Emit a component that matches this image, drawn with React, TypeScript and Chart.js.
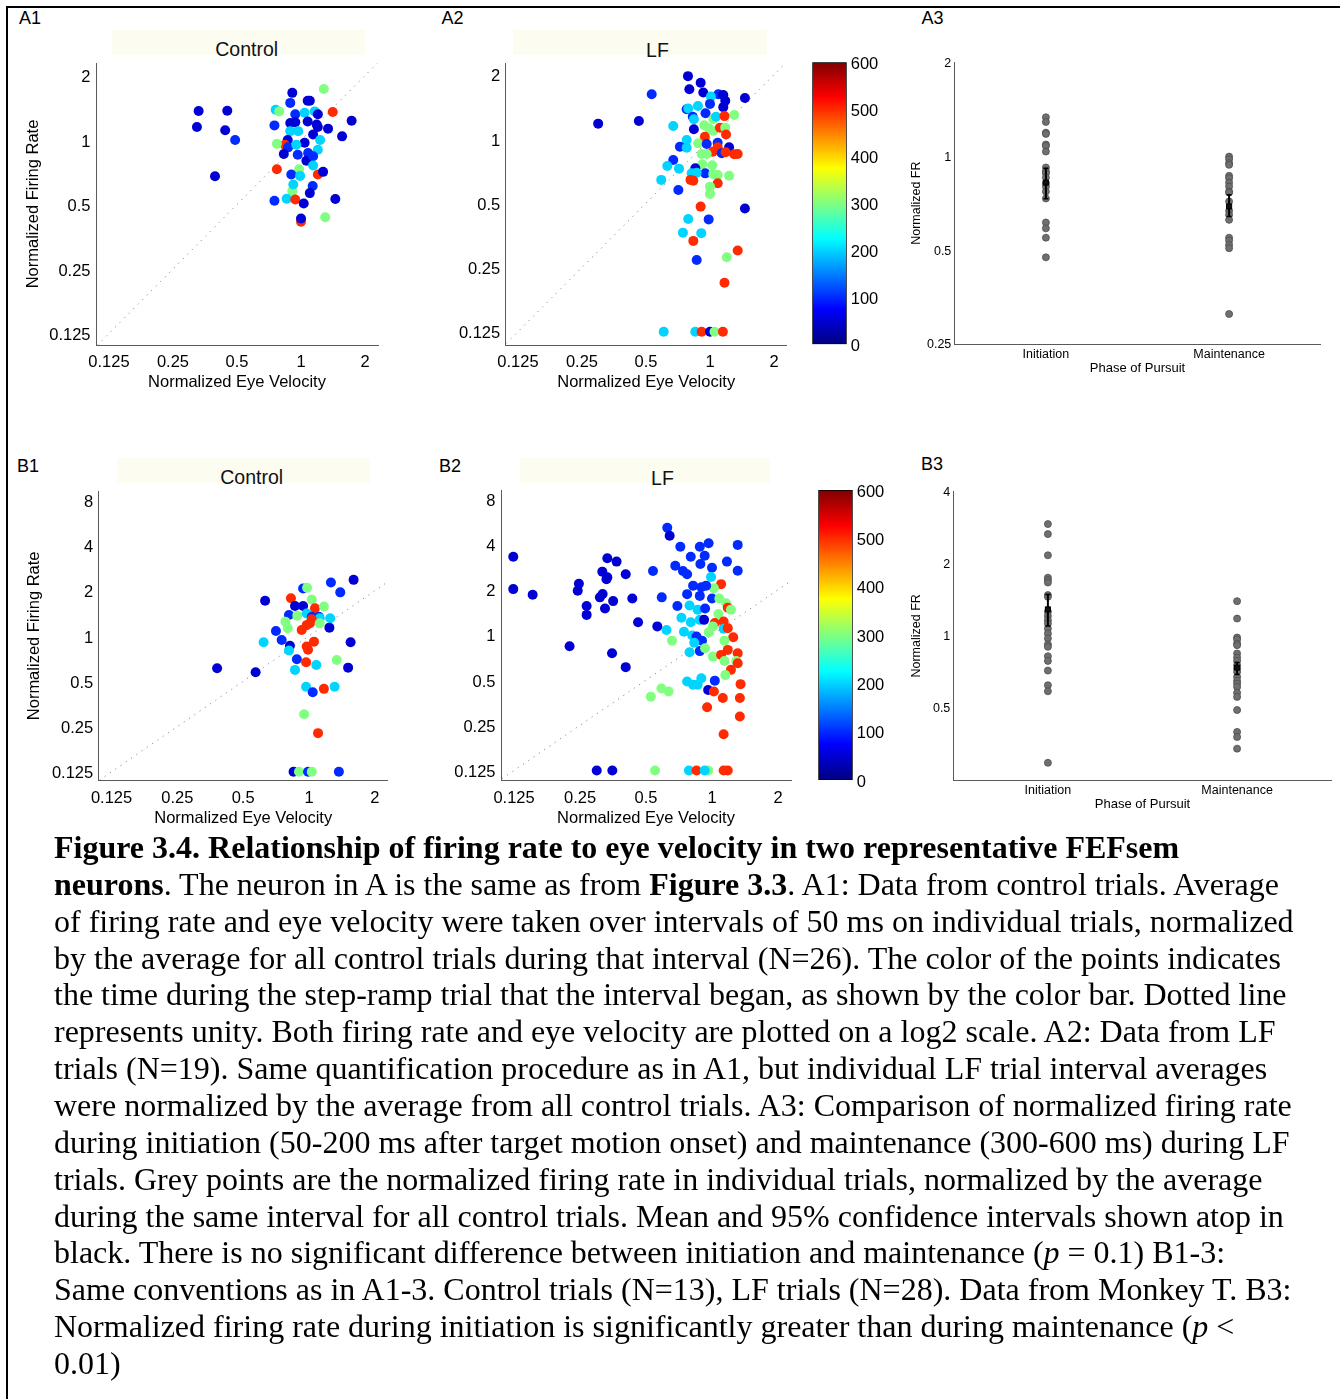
import React, { useEffect, useRef } from 'react';
import { Chart, registerables } from 'chart.js';
Chart.register(...registerables);

// ---------- shared axis data ----------
const TIME_MAX = 600;
const COLORBAR_TICKS = [0, 100, 200, 300, 400, 500, 600];
const COLORBAR_STOPS = [0, 0.125, 0.25, 0.375, 0.5, 0.625, 0.75, 0.875, 1];
const VEL_TICKS = [0.125, 0.25, 0.5, 1, 2];
const VEL_LABELS = ['0.125', '0.25', '0.5', '1', '2'];
const A_FR_TICKS = [0.125, 0.25, 0.5, 1, 2];
const A_FR_LABELS = ['0.125', '0.25', '0.5', '1', '2'];
const B_FR_TICKS = [0.125, 0.25, 0.5, 1, 2, 4, 8];
const B_FR_LABELS = ['0.125', '0.25', '0.5', '1', '2', '4', '8'];
const A3_TICKS = [0.25, 0.5, 1, 2];
const A3_LABELS = ['0.25', '0.5', '1', '2'];
const B3_TICKS = [0.5, 1, 2, 4];
const B3_LABELS = ['0.5', '1', '2', '4'];
const PHASES = ['Initiation', 'Maintenance'];
const PHASE_X = [1, 3];
const UNITY = [0.11, 2.28];

// ---------- A1 (Control) ----------
const a1Vel = [1.28, 0.91, 0.89, 1.075, 1.1, 0.76, 0.79, 1.41, 0.94, 1.04, 1.16, 1.2, 1.73, 0.75, 0.89, 0.94, 1.075, 1.185, 0.89, 0.97, 1.2, 1.34, 1.56, 1.14, 1.23, 1.04, 0.866, 0.84, 0.77, 0.87, 0.95, 0.83, 0.965, 1.08, 1.2, 1.06, 1.14, 1.14, 0.77, 0.98, 1.2, 1.27, 0.9, 0.99, 0.91, 0.92, 1.135, 1.1, 0.856, 0.94, 0.75, 1.03, 1.45, 1.3, 1.0, 1.0, 0.33, 0.45, 0.324, 0.44, 0.49, 0.394];
const a1FR = [1.73, 1.66, 1.49, 1.525, 1.525, 1.385, 1.36, 1.35, 1.32, 1.34, 1.36, 1.32, 1.23, 1.17, 1.2, 1.21, 1.22, 1.18, 1.1, 1.1, 1.15, 1.13, 1.04, 1.06, 1.0, 0.97, 1.0, 0.95, 0.96, 0.924, 0.95, 0.86, 0.854, 0.87, 0.9, 0.8, 0.84, 0.76, 0.73, 0.73, 0.69, 0.71, 0.69, 0.68, 0.577, 0.62, 0.61, 0.565, 0.532, 0.527, 0.52, 0.505, 0.53, 0.436, 0.415, 0.43, 1.366, 1.37, 1.15, 1.11, 1.0, 0.677];
const a1Time = [300, 50, 100, 50, 50, 200, 300, 500, 100, 200, 200, 50, 50, 100, 50, 50, 50, 50, 200, 200, 50, 50, 50, 50, 200, 50, 50, 500, 300, 100, 200, 50, 100, 100, 200, 50, 100, 200, 500, 300, 500, 50, 100, 200, 300, 200, 100, 50, 200, 500, 100, 50, 50, 300, 500, 50, 50, 50, 50, 50, 100, 50];

// ---------- A2 (LF) ----------
const a2Vel = [0.298, 0.463, 0.532, 0.788, 0.8, 0.904, 0.93, 1.094, 1.155, 1.01, 1.0, 1.18, 1.155, 1.46, 0.777, 0.79, 0.878, 0.953, 0.83, 0.84, 1.036, 1.067, 1.3, 1.17, 0.84, 0.672, 0.94, 0.99, 1.036, 1.114, 1.18, 0.946, 1.19, 0.777, 0.722, 0.777, 0.88, 0.965, 1.087, 1.23, 1.087, 1.03, 1.135, 1.185, 1.3, 1.35, 0.914, 0.965, 0.672, 0.63, 0.715, 0.92, 1.025, 0.853, 0.95, 0.82, 0.866, 1.036, 1.087, 1.23, 0.59, 0.81, 0.835, 1.087, 1.0, 0.71, 1.0, 0.904, 1.46, 0.79, 0.986, 0.746, 0.91, 0.835, 1.35, 1.2, 0.866, 1.17, 0.606, 0.853, 0.914, 1.0, 1.05, 1.15];
const a2FR = [1.18, 1.214, 1.62, 1.97, 1.71, 1.835, 1.65, 1.62, 1.607, 1.58, 1.46, 1.51, 1.41, 1.556, 1.377, 1.39, 1.427, 1.32, 1.27, 1.237, 1.24, 1.27, 1.296, 1.28, 1.11, 1.15, 1.16, 1.12, 1.094, 1.13, 1.13, 1.025, 1.05, 0.99, 0.92, 0.91, 0.955, 0.947, 0.96, 0.914, 0.914, 0.872, 0.857, 0.866, 0.848, 0.85, 0.85, 0.85, 0.797, 0.747, 0.726, 0.761, 0.753, 0.729, 0.69, 0.69, 0.695, 0.686, 0.678, 0.673, 0.643, 0.643, 0.638, 0.62, 0.598, 0.577, 0.553, 0.482, 0.472, 0.422, 0.42, 0.364, 0.362, 0.333, 0.3, 0.279, 0.271, 0.212, 0.125, 0.125, 0.125, 0.125, 0.125, 0.125];
const a2Time = [50, 50, 100, 50, 50, 50, 50, 100, 50, 200, 100, 50, 50, 50, 100, 200, 200, 100, 100, 200, 300, 200, 300, 500, 50, 200, 300, 300, 300, 500, 300, 500, 500, 200, 100, 200, 300, 100, 100, 50, 500, 500, 100, 500, 500, 500, 300, 300, 100, 200, 200, 300, 300, 50, 100, 200, 200, 300, 300, 300, 200, 500, 500, 500, 300, 100, 300, 500, 50, 200, 100, 200, 200, 500, 500, 300, 100, 500, 200, 200, 500, 50, 300, 500];

// ---------- A3 (LF, phases) ----------
const a3Init = [1.333, 1.288, 1.19, 1.179, 1.09, 1.079, 1.035, 0.92, 0.893, 0.882, 0.854, 0.82, 0.8, 0.77, 0.732, 0.613, 0.587, 0.548, 0.474];
const a3Maint = [0.997, 0.978, 0.95, 0.938, 0.865, 0.85, 0.823, 0.8, 0.77, 0.765, 0.716, 0.668, 0.649, 0.625, 0.548, 0.537, 0.52, 0.507, 0.312];
const a3Mean = [0.823, 0.69];
const a3Low = [0.73, 0.641];
const a3High = [0.915, 0.752];

// ---------- B1 (Control) ----------
const b1Vel = [1.26, 1.6, 1.39, 0.94, 0.98, 0.63, 0.827, 1.03, 0.863, 0.94, 1.065, 1.17, 0.81, 0.884, 0.976, 1.03, 1.11, 1.12, 1.25, 1.03, 0.78, 0.8, 0.926, 0.976, 1.01, 1.12, 1.24, 0.706, 0.75, 0.62, 0.818, 0.81, 0.976, 1.054, 0.99, 1.55, 0.57, 0.38, 0.88, 0.97, 1.08, 1.34, 0.863, 1.51, 0.97, 1.04, 1.17, 1.31, 0.95, 1.1, 0.85, 0.9, 0.99, 1.03, 1.37];
const b1FR = [2.27, 2.36, 1.95, 2.07, 2.09, 1.716, 1.78, 1.75, 1.58, 1.58, 1.53, 1.57, 1.38, 1.365, 1.41, 1.34, 1.34, 1.31, 1.31, 1.29, 1.245, 1.125, 1.096, 1.18, 1.215, 1.215, 1.136, 1.08, 0.94, 0.908, 0.862, 0.8, 0.85, 0.917, 0.81, 0.908, 0.574, 0.61, 0.7, 0.669, 0.642, 0.693, 0.595, 0.616, 0.46, 0.422, 0.445, 0.46, 0.302, 0.226, 0.125, 0.125, 0.125, 0.125, 0.125];
const b1Time = [100, 50, 100, 100, 300, 50, 500, 300, 50, 50, 500, 300, 100, 300, 200, 100, 100, 200, 200, 500, 300, 300, 500, 500, 500, 300, 50, 100, 100, 200, 50, 200, 500, 500, 500, 50, 50, 50, 100, 500, 200, 300, 200, 50, 200, 100, 500, 200, 300, 500, 50, 300, 100, 300, 100];

// ---------- B2 (LF) ----------
const b2Vel = [0.124, 0.124, 0.152, 0.247, 0.244, 0.268, 0.268, 0.333, 0.367, 0.316, 0.333, 0.33, 0.404, 0.317, 0.308, 0.354, 0.325, 0.433, 0.46, 0.224, 0.35, 0.404, 0.298, 0.351, 0.526, 0.625, 0.641, 0.717, 0.88, 0.965, 0.926, 0.8, 1.31, 0.885, 1.17, 0.68, 0.737, 0.77, 1.0, 1.31, 0.538, 0.99, 1.1, 1.02, 0.82, 0.894, 0.94, 0.77, 0.88, 1.0, 1.08, 0.59, 0.695, 0.79, 0.86, 0.93, 1.16, 1.18, 1.22, 1.07, 0.725, 0.8, 0.88, 0.92, 1.03, 1.13, 1.01, 0.563, 0.62, 0.745, 0.813, 0.85, 0.966, 1.13, 1.18, 1.25, 0.657, 0.9, 0.83, 1.14, 0.79, 0.88, 0.93, 1.18, 1.01, 1.31, 1.1, 1.14, 1.29, 1.22, 1.31, 1.15, 1.35, 1.03, 0.77, 0.82, 0.894, 0.86, 0.96, 1.02, 1.12, 1.34, 0.95, 1.34, 1.13, 0.588, 0.634, 0.55, 0.785, 0.85, 0.96, 0.926, 1.13, 1.18];
const b2FR = [3.32, 2.02, 1.85, 2.19, 1.97, 1.56, 1.36, 3.24, 3.08, 2.64, 2.42, 2.35, 2.54, 1.875, 1.78, 1.68, 1.5, 1.75, 1.215, 0.84, 0.755, 0.61, 0.125, 0.125, 0.388, 5.18, 4.58, 3.87, 3.87, 4.08, 3.37, 3.32, 3.98, 2.97, 3.08, 2.89, 2.67, 2.54, 2.8, 2.68, 2.67, 2.43, 2.18, 2.05, 2.13, 2.08, 2.13, 1.87, 1.82, 1.75, 1.75, 1.78, 1.56, 1.57, 1.47, 1.5, 1.625, 1.52, 1.47, 1.38, 1.3, 1.215, 1.26, 1.26, 1.2, 1.23, 1.14, 1.14, 1.08, 1.05, 0.99, 0.975, 1.04, 1.1, 1.11, 0.965, 0.916, 0.916, 0.888, 0.916, 0.767, 0.78, 0.815, 0.795, 0.717, 0.755, 0.736, 0.671, 0.671, 0.585, 0.648, 0.54, 0.47, 0.496, 0.49, 0.465, 0.515, 0.465, 0.43, 0.42, 0.38, 0.38, 0.33, 0.286, 0.218, 0.44, 0.42, 0.125, 0.125, 0.125, 0.125, 0.125, 0.125, 0.125];
const b2Time = [50, 50, 50, 50, 50, 50, 50, 50, 50, 50, 50, 50, 50, 50, 50, 50, 50, 50, 50, 50, 50, 50, 50, 50, 300, 100, 50, 100, 100, 100, 100, 100, 100, 100, 100, 100, 100, 100, 100, 100, 100, 200, 500, 300, 100, 100, 100, 100, 100, 100, 300, 100, 100, 200, 200, 100, 300, 500, 300, 300, 200, 200, 200, 50, 500, 500, 300, 50, 200, 200, 200, 100, 300, 200, 500, 500, 300, 100, 200, 300, 200, 100, 300, 500, 300, 500, 500, 300, 300, 500, 500, 300, 500, 100, 200, 200, 200, 200, 50, 500, 500, 500, 500, 500, 500, 300, 300, 300, 200, 500, 300, 200, 500, 500];

// ---------- B3 (LF, phases) ----------
const b3Init = [2.93, 2.66, 2.17, 1.75, 1.71, 1.67, 1.48, 1.456, 1.26, 1.21, 1.163, 1.126, 1.073, 1.022, 0.975, 0.92, 0.9, 0.822, 0.786, 0.716, 0.622, 0.587, 0.295];
const b3Maint = [1.396, 1.181, 0.984, 0.965, 0.929, 0.914, 0.844, 0.812, 0.786, 0.754, 0.73, 0.707, 0.674, 0.649, 0.632, 0.612, 0.578, 0.556, 0.49, 0.397, 0.378, 0.338];
const b3Mean = [1.29, 0.737];
const b3Low = [1.1, 0.69];
const b3High = [1.49, 0.774];

// ---------- styling ----------
const SANS = "'Liberation Sans', Arial, Helvetica, sans-serif";
const SERIF = "'Liberation Serif', 'Times New Roman', serif";
const AXIS = '#5a5a5a';
const FS = 16.5;
const LH = FS * 1.2;

function jet(v: number): string {
  const c = (x: number) => Math.round(255 * Math.max(0, Math.min(1, x)));
  return `rgb(${c(1.5 - Math.abs(4 * v - 3))},${c(1.5 - Math.abs(4 * v - 2))},${c(1.5 - Math.abs(4 * v - 1))})`;
}

const inTicks = {
  id: 'inTicks',
  afterDraw(chart: any, _args: any, opts: any) {
    if (!opts || !opts.axes) return;
    const { ctx, chartArea: a } = chart;
    ctx.save();
    ctx.strokeStyle = opts.color || AXIS;
    ctx.lineWidth = 1;
    ctx.beginPath();
    for (const id of opts.axes) {
      const s = chart.scales[id];
      if (!s) continue;
      for (const t of s.ticks) {
        const p = Math.round(s.getPixelForValue(t.value)) + 0.5;
        if (s.isHorizontal()) {
          ctx.moveTo(p, a.bottom);
          ctx.lineTo(p, a.bottom - opts.len);
        } else {
          if (opts.left !== false) {
            ctx.moveTo(a.left, p);
            ctx.lineTo(a.left + opts.len, p);
          }
          if (opts.right) {
            ctx.moveTo(a.right, p);
            ctx.lineTo(a.right - opts.len, p);
          }
        }
      }
    }
    ctx.stroke();
    ctx.restore();
  },
};

type Box = { left: number; top: number; w: number; h: number };
type Area = { l: number; t: number; r: number; b: number };

function scatterConfig(p: {
  box: Box; area: Area; xMin: number; xMax: number; yMin: number; yMax: number;
  yTicks: number[]; yLabels: string[]; vel: number[]; fr: number[]; time: number[];
  yTitle: string | null; yTitleX: number; xTickY: number; xTitleY: number;
}): any {
  const { box, area } = p;
  const font = { family: SANS, size: FS };
  return {
    type: 'scatter',
    data: {
      datasets: [
        {
          data: p.vel.map((v, i) => ({ x: v, y: p.fr[i] })),
          pointBackgroundColor: p.time.map((t) => jet(t / TIME_MAX)),
          pointBorderWidth: 0,
          pointRadius: 5,
          order: 0,
        },
        {
          type: 'line',
          data: UNITY.map((u) => ({ x: u, y: u })),
          borderColor: '#8a8a8a',
          borderWidth: 1,
          borderDash: [1.2, 5.2],
          pointRadius: 0,
          order: 1,
        },
      ],
    },
    options: {
      responsive: false,
      animation: false,
      devicePixelRatio: 1,
      events: [],
      layout: { padding: { left: 0, top: area.t - box.top, right: box.left + box.w - area.r, bottom: 0 } },
      plugins: {
        legend: { display: false },
        tooltip: { enabled: false },
        inTicks: { axes: ['x', 'y'], len: 4, color: AXIS },
      },
      scales: {
        x: {
          type: 'logarithmic',
          min: p.xMin,
          max: p.xMax,
          afterBuildTicks: (s: any) => { s.ticks = VEL_TICKS.map((v) => ({ value: v })); },
          afterFit: (s: any) => { s.height = box.top + box.h - area.b; },
          ticks: {
            callback: (_v: any, i: number) => VEL_LABELS[i],
            font, color: '#000', autoSkip: false, maxRotation: 0,
            padding: p.xTickY - area.b - LH / 2 + 2,
          },
          grid: { display: false, drawTicks: false },
          border: { display: true, color: AXIS, width: 1 },
          title: {
            display: true, text: 'Normalized Eye Velocity', font, color: '#000',
            padding: { top: 0, bottom: box.top + box.h - p.xTitleY - LH / 2 - 2 },
          },
        },
        y: {
          type: 'logarithmic',
          min: p.yMin,
          max: p.yMax,
          afterBuildTicks: (s: any) => { s.ticks = p.yTicks.map((v) => ({ value: v })); },
          afterFit: (s: any) => { s.width = area.l - box.left; },
          ticks: {
            callback: (_v: any, i: number) => p.yLabels[i],
            font, color: '#000', autoSkip: false, padding: 5.5, labelOffset: 2,
          },
          grid: { display: false, drawTicks: false },
          border: { display: true, color: AXIS, width: 1 },
          title: {
            display: !!p.yTitle, text: p.yTitle || '', font, color: '#000',
            padding: { top: p.yTitleX - box.left - LH / 2, bottom: 0 },
          },
        },
      },
    },
  };
}

function phaseConfig(p: {
  box: Box; area: Area; yMin: number; yMax: number; yTicks: number[]; yLabels: string[];
  init: number[]; maint: number[]; mean: number[]; low: number[]; high: number[];
  yTitleX: number; xTickY: number; xTitleY: number;
}): any {
  const { box, area } = p;
  const tf = { family: SANS, size: 12.5 };
  const tlh = 12.5 * 1.2;
  const ttf = { family: SANS, size: 13 };
  const ttlh = 13 * 1.2;
  const bars = PHASE_X.map((x, i) => ({
    type: 'line',
    data: [{ x, y: p.low[i] }, { x, y: p.high[i] }],
    borderColor: '#000',
    borderWidth: 2,
    pointStyle: 'line',
    pointRadius: 2.5,
    pointBorderColor: '#000',
    pointBorderWidth: 1.5,
    order: 1,
  }));
  return {
    type: 'scatter',
    data: {
      datasets: [
        {
          data: PHASE_X.map((x, i) => ({ x, y: p.mean[i] })),
          pointStyle: 'rect',
          pointRadius: 3.6,
          pointBackgroundColor: '#111',
          pointBorderColor: '#000',
          pointBorderWidth: 1,
          order: 0,
        },
        ...bars,
        {
          data: [
            ...p.init.map((v) => ({ x: PHASE_X[0], y: v })),
            ...p.maint.map((v) => ({ x: PHASE_X[1], y: v })),
          ],
          pointRadius: 3.5,
          pointBackgroundColor: '#6f6f6f',
          pointBorderColor: '#4e4e4e',
          pointBorderWidth: 0.8,
          order: 2,
        },
      ],
    },
    options: {
      responsive: false,
      animation: false,
      devicePixelRatio: 1,
      events: [],
      layout: { padding: { left: 0, top: area.t - box.top, right: box.left + box.w - area.r, bottom: 0 } },
      plugins: {
        legend: { display: false },
        tooltip: { enabled: false },
        inTicks: { axes: ['x', 'y'], len: 3, color: AXIS },
      },
      scales: {
        x: {
          type: 'linear',
          min: 0,
          max: 4,
          afterBuildTicks: (s: any) => { s.ticks = PHASE_X.map((v) => ({ value: v })); },
          afterFit: (s: any) => { s.height = box.top + box.h - area.b; },
          ticks: {
            callback: (_v: any, i: number) => PHASES[i],
            font: tf, color: '#000', autoSkip: false, maxRotation: 0,
            padding: p.xTickY - area.b - tlh / 2 + 1,
          },
          grid: { display: false, drawTicks: false },
          border: { display: true, color: AXIS, width: 1 },
          title: {
            display: true, text: 'Phase of Pursuit', font: ttf, color: '#000',
            padding: { top: 0, bottom: box.top + box.h - p.xTitleY - ttlh / 2 - 1.5 },
          },
        },
        y: {
          type: 'logarithmic',
          min: p.yMin,
          max: p.yMax,
          afterBuildTicks: (s: any) => { s.ticks = p.yTicks.map((v) => ({ value: v })); },
          afterFit: (s: any) => { s.width = area.l - box.left; },
          ticks: {
            callback: (_v: any, i: number) => p.yLabels[i],
            font: tf, color: '#000', autoSkip: false, padding: 3, labelOffset: 1,
          },
          grid: { display: false, drawTicks: false },
          border: { display: true, color: AXIS, width: 1 },
          title: {
            display: true, text: 'Normalized FR', font: tf, color: '#000',
            padding: { top: p.yTitleX - box.left - tlh / 2, bottom: 0 },
          },
        },
      },
    },
  };
}

function colorbarConfig(box: Box, area: Area): any {
  return {
    type: 'bar',
    data: {
      labels: [''],
      datasets: [
        {
          data: [COLORBAR_TICKS[COLORBAR_TICKS.length - 1]],
          backgroundColor: (ctx: any) => {
            const a = ctx.chart.chartArea;
            if (!a) return '#000080';
            const g = ctx.chart.ctx.createLinearGradient(0, a.bottom, 0, a.top);
            COLORBAR_STOPS.forEach((s) => g.addColorStop(s, jet(s)));
            return g;
          },
          borderColor: '#000',
          borderWidth: 1,
          borderSkipped: false,
          barPercentage: 1,
          categoryPercentage: 1,
        },
      ],
    },
    options: {
      responsive: false,
      animation: false,
      devicePixelRatio: 1,
      events: [],
      layout: {
        padding: { left: area.l - box.left, top: area.t - box.top, right: 0, bottom: box.top + box.h - area.b },
      },
      plugins: {
        legend: { display: false },
        tooltip: { enabled: false },
        inTicks: { axes: ['y'], len: 4, color: '#222', left: true, right: true },
      },
      scales: {
        x: { type: 'category', display: false },
        y: {
          position: 'right',
          min: COLORBAR_TICKS[0],
          max: COLORBAR_TICKS[COLORBAR_TICKS.length - 1],
          afterBuildTicks: (s: any) => { s.ticks = COLORBAR_TICKS.map((v) => ({ value: v })); },
          afterFit: (s: any) => { s.width = box.left + box.w - area.r; },
          ticks: { font: { family: SANS, size: FS }, color: '#000', padding: 4, autoSkip: false, labelOffset: 2 },
          grid: { display: false, drawTicks: false },
          border: { display: false },
        },
      },
    },
  };
}

function ChartBox({ box, make }: { box: Box; make: () => any }) {
  const ref = useRef<HTMLCanvasElement>(null);
  useEffect(() => {
    const chart = new Chart(ref.current as HTMLCanvasElement, make());
    return () => chart.destroy();
  }, []);
  return (
    <div style={{ position: 'absolute', left: box.left, top: box.top, width: box.w, height: box.h }}>
      <canvas ref={ref} width={box.w} height={box.h} style={{ width: box.w, height: box.h, display: 'block' }} />
    </div>
  );
}

function PanelLetter({ text, left, top }: { text: string; left: number; top: number }) {
  return (
    <div style={{ position: 'absolute', left, top, fontFamily: SANS, fontSize: 18, lineHeight: '18px', color: '#000', whiteSpace: 'nowrap' }}>
      {text}
    </div>
  );
}

function TitleBox({ text, x0, x1, y0, y1, cx, cy }: { text: string; x0: number; x1: number; y0: number; y1: number; cx: number; cy: number }) {
  return (
    <>
      <div style={{ position: 'absolute', left: x0, top: y0, width: x1 - x0, height: y1 - y0, background: '#fcfcf1' }} />
      <div style={{ position: 'absolute', left: cx - 100, width: 200, top: cy - 11.8, fontFamily: SANS, fontSize: 19.5, lineHeight: '24px', textAlign: 'center', color: '#111' }}>
        {text}
      </div>
    </>
  );
}

const A1_BOX = { left: 10, top: 40, w: 390, h: 360 };
const A2_BOX = { left: 420, top: 40, w: 380, h: 360 };
const CA_BOX = { left: 800, top: 40, w: 100, h: 330 };
const A3_BOX = { left: 900, top: 40, w: 440, h: 350 };
const B1_BOX = { left: 10, top: 462, w: 390, h: 368 };
const B2_BOX = { left: 420, top: 462, w: 380, h: 368 };
const CB_BOX = { left: 800, top: 462, w: 100, h: 340 };
const B3_BOX = { left: 900, top: 462, w: 440, h: 360 };

export default function App() {
  const lineStyle: React.CSSProperties = { whiteSpace: 'nowrap', height: 36.86 };
  return (
    <div style={{ position: 'absolute', left: 0, top: 0, width: 1340, height: 1399, overflow: 'hidden', background: '#fff' }}>
      <div style={{ position: 'absolute', left: 6, top: 6, width: 1340, height: 1400, borderTop: '2px solid #000', borderLeft: '2px solid #000' }} />

      <PanelLetter text="A1" left={19} top={9.3} />
      <PanelLetter text="A2" left={441.5} top={9.3} />
      <PanelLetter text="A3" left={921.5} top={9.3} />
      <PanelLetter text="B1" left={17} top={457} />
      <PanelLetter text="B2" left={439} top={457} />
      <PanelLetter text="B3" left={921} top={454.5} />

      <TitleBox text="Control" x0={112} x1={365} y0={30} y1={55} cx={246.7} cy={49.2} />
      <TitleBox text="LF" x0={513} x1={767} y0={30} y1={55} cx={657.5} cy={49.5} />
      <TitleBox text="Control" x0={117} x1={370} y0={458} y1={483} cx={251.7} cy={477} />
      <TitleBox text="LF" x0={520} x1={770} y0={458} y1={483} cx={662.5} cy={477.3} />

      <ChartBox box={A1_BOX} make={() => scatterConfig({
        box: A1_BOX, area: { l: 96, t: 63, r: 378, b: 345 },
        xMin: 0.1086, xMax: 2.302, yMin: 0.1104, yMax: 2.288,
        yTicks: A_FR_TICKS, yLabels: A_FR_LABELS, vel: a1Vel, fr: a1FR, time: a1Time,
        yTitle: 'Normalized Firing Rate', yTitleX: 33, xTickY: 360, xTitleY: 380,
      })} />
      <ChartBox box={A2_BOX} make={() => scatterConfig({
        box: A2_BOX, area: { l: 505.7, t: 63, r: 786.7, b: 345 },
        xMin: 0.1095, xMax: 2.295, yMin: 0.1083, yMax: 2.27,
        yTicks: A_FR_TICKS, yLabels: A_FR_LABELS, vel: a2Vel, fr: a2FR, time: a2Time,
        yTitle: null, yTitleX: 440, xTickY: 360, xTitleY: 380,
      })} />
      <ChartBox box={CA_BOX} make={() => colorbarConfig(CA_BOX, { l: 812.3, t: 62.3, r: 846.7, b: 344.3 })} />
      <ChartBox box={A3_BOX} make={() => phaseConfig({
        box: A3_BOX, area: { l: 954.3, t: 62.3, r: 1320.7, b: 344 },
        yMin: 0.25, yMax: 2, yTicks: A3_TICKS, yLabels: A3_LABELS,
        init: a3Init, maint: a3Maint, mean: a3Mean, low: a3Low, high: a3High,
        yTitleX: 916.7, xTickY: 353.5, xTitleY: 366.7,
      })} />

      <ChartBox box={B1_BOX} make={() => scatterConfig({
        box: B1_BOX, area: { l: 98.7, t: 491.7, r: 387.7, b: 780 },
        xMin: 0.1092, xMax: 2.291, yMin: 0.1103, yMax: 9.1,
        yTicks: B_FR_TICKS, yLabels: B_FR_LABELS, vel: b1Vel, fr: b1FR, time: b1Time,
        yTitle: 'Normalized Firing Rate', yTitleX: 34.3, xTickY: 796.5, xTitleY: 816.7,
      })} />
      <ChartBox box={B2_BOX} make={() => scatterConfig({
        box: B2_BOX, area: { l: 501, t: 490.7, r: 791, b: 780 },
        xMin: 0.109, xMax: 2.293, yMin: 0.108, yMax: 9.14,
        yTicks: B_FR_TICKS, yLabels: B_FR_LABELS, vel: b2Vel, fr: b2FR, time: b2Time,
        yTitle: null, yTitleX: 440, xTickY: 796, xTitleY: 816.7,
      })} />
      <ChartBox box={CB_BOX} make={() => colorbarConfig(CB_BOX, { l: 818.3, t: 490, r: 852.7, b: 780 })} />
      <ChartBox box={B3_BOX} make={() => phaseConfig({
        box: B3_BOX, area: { l: 953.3, t: 491.7, r: 1331.7, b: 780 },
        yMin: 0.25, yMax: 4, yTicks: B3_TICKS, yLabels: B3_LABELS,
        init: b3Init, maint: b3Maint, mean: b3Mean, low: b3Low, high: b3High,
        yTitleX: 916.7, xTickY: 790, xTitleY: 803.3,
      })} />

      <div style={{ position: 'absolute', left: 54, top: 829, fontFamily: SERIF, fontSize: 32, lineHeight: '36.86px', color: '#000' }}>
        <div style={lineStyle}><b>Figure 3.4. Relationship of firing rate to eye velocity in two representative FEFsem</b></div>
        <div style={lineStyle}><b>neurons</b>. The neuron in A is the same as from <b>Figure 3.3</b>. A1: Data from control trials. Average</div>
        <div style={lineStyle}>of firing rate and eye velocity were taken over intervals of 50 ms on individual trials, normalized</div>
        <div style={lineStyle}>by the average for all control trials during that interval (N=26). The color of the points indicates</div>
        <div style={lineStyle}>the time during the step-ramp trial that the interval began, as shown by the color bar. Dotted line</div>
        <div style={lineStyle}>represents unity. Both firing rate and eye velocity are plotted on a log2 scale. A2: Data from LF</div>
        <div style={lineStyle}>trials (N=19). Same quantification procedure as in A1, but individual LF trial interval averages</div>
        <div style={lineStyle}>were normalized by the average from all control trials. A3: Comparison of normalized firing rate</div>
        <div style={lineStyle}>during initiation (50-200 ms after target motion onset) and maintenance (300-600 ms) during LF</div>
        <div style={lineStyle}>trials. Grey points are the normalized firing rate in individual trials, normalized by the average</div>
        <div style={lineStyle}>during the same interval for all control trials. Mean and 95% confidence intervals shown atop in</div>
        <div style={lineStyle}>black. There is no significant difference between initiation and maintenance (<i>p</i> = 0.1) B1-3:</div>
        <div style={lineStyle}>Same conventions as in A1-3. Control trials (N=13), LF trials (N=28). Data from Monkey T. B3:</div>
        <div style={lineStyle}>Normalized firing rate during initiation is significantly greater than during maintenance (<i>p</i> &lt;</div>
        <div style={lineStyle}>0.01)</div>
      </div>
    </div>
  );
}
